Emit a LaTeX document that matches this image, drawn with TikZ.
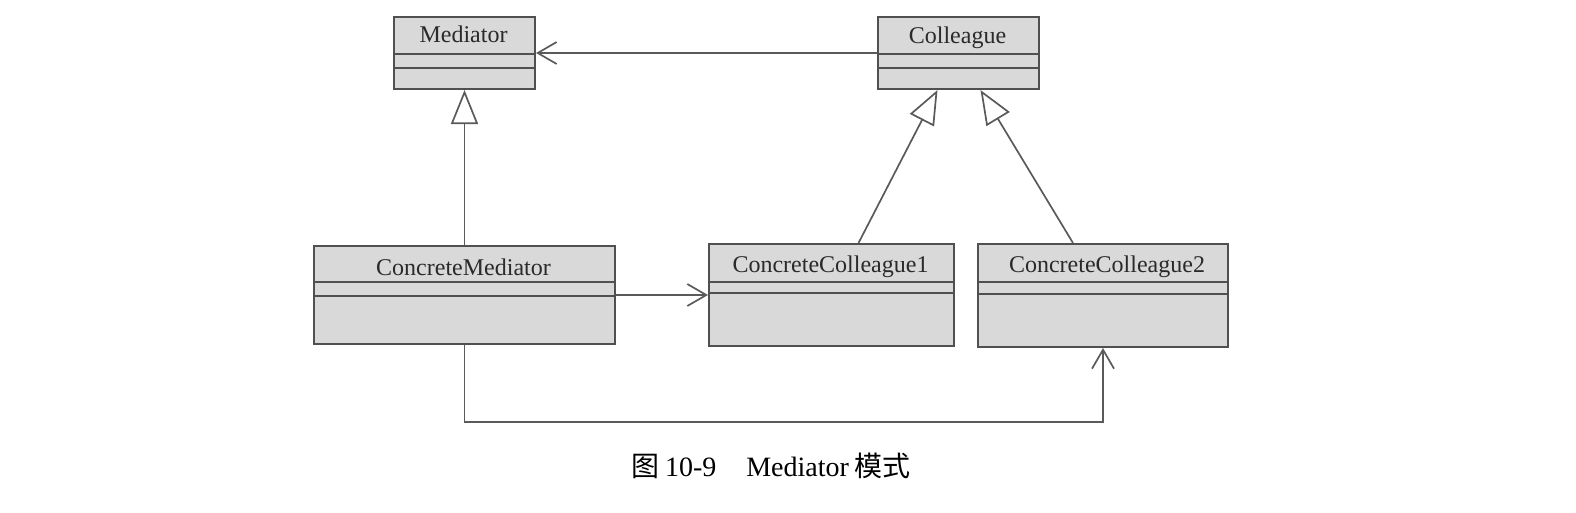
\documentclass[tikz,border=0pt]{standalone}
\usepackage{fontspec}
\setmainfont{Liberation Serif}
\newfontfamily\cjk{Noto Sans CJK SC}
\usetikzlibrary{arrows.meta}
\definecolor{boxfill}{HTML}{D9D9D9}
\definecolor{boxline}{HTML}{505050}
\definecolor{conline}{HTML}{5A5A5A}
\definecolor{txtcol}{HTML}{2A2A2A}
\tikzset{
  clsbox/.style={draw=boxline, fill=boxfill, line width=2pt, inner sep=0pt, rectangle},
  clssep/.style={draw=boxline, line width=2pt},
  clstext/.style={text=txtcol, inner sep=0pt, anchor=base, font=\fontsize{24pt}{28pt}\selectfont},
  assoc/.style={draw=conline, line width=1.7pt, -{Straight Barb[length=19pt, width=22pt, line width=1.7pt]}},
  inherit/.style={draw=conline, line width=1.7pt, -{Triangle[open, length=34pt, width=27pt, line width=1.7pt, fill=white]}},
  captext/.style={inner sep=0pt, text=black, font=\fontsize{28pt}{32pt}\selectfont}
}
% name, x1, y1, x2, y2, sep1, sep2, baseline y, label
\newcommand\umlcls[9]{%
  \node[clsbox, minimum width={#4-#2}, minimum height={#5-#3}, anchor=north west] (#1) at (#2,#3) {};
  \draw[clssep] (#2,#6) -- (#4,#6);
  \draw[clssep] (#2,#7) -- (#4,#7);
  \node[clstext] (#1-t) at ({(#2+#4)/2}, #8) {#9};
}
\begin{document}
\begin{tikzpicture}[x=1pt, y=-1pt]
\useasboundingbox (0,0) rectangle (1576,512);
\umlcls{med}{393}{16}{534}{88}{54}{68}{42}{Mediator}
\umlcls{col}{877}{16}{1038}{88}{54}{68}{43}{Colleague}
\umlcls{cm}{313}{245}{614}{343}{282}{296}{275}{ConcreteMediator}
\umlcls{cca}{708}{243}{953}{345}{282}{293}{272}{ConcreteColleague1}
\umlcls{ccb}{977}{243}{1227}{346}{282}{294}{272}{\hspace*{10pt}ConcreteColleague2}
% associations
\draw[assoc] (col.west) -- (med.east);
\draw[assoc] (cm.east) -- (cm.east -| cca.west);
\draw[assoc] (cm.south) -- ++(0,77) -| (ccb.south);
% generalisations
\draw[inherit] (cm.north) -- (cm.north |- med.south);
\draw[inherit] ([xshift=27pt]cca.north) -- ([xshift=-21pt]col.south);
\draw[inherit] ([xshift=-30pt]ccb.north) -- ([xshift=22pt]col.south);
% caption
\node[captext] (cap) at (771,466) {{\cjk 图}\hspace{6pt}10-9\hspace{30pt}Mediator\hspace{6pt}{\cjk 模式}};
\end{tikzpicture}
\end{document}
